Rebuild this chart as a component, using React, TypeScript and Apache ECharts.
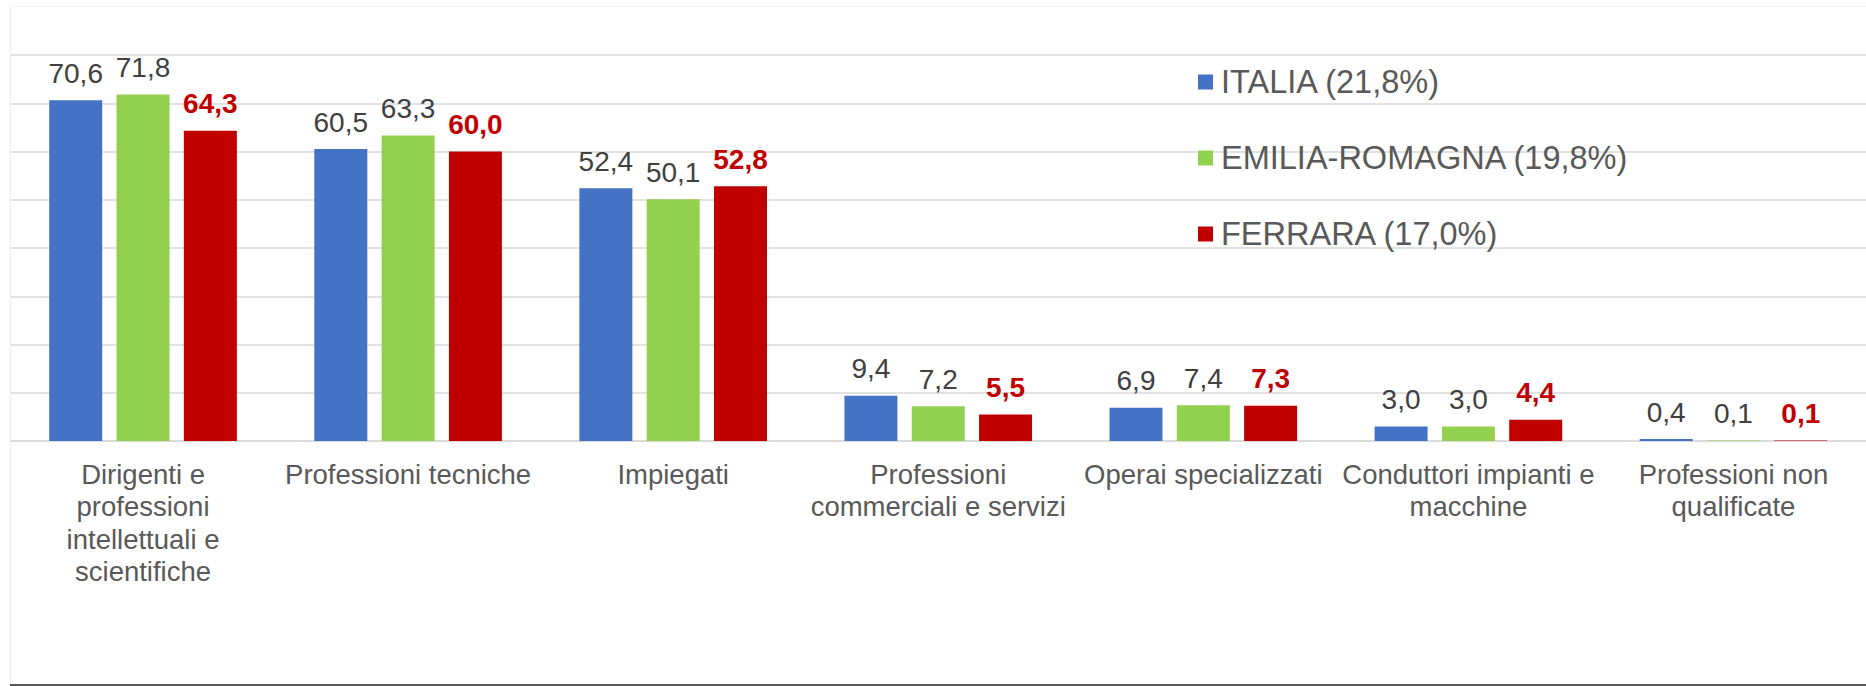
import React, { useEffect, useRef } from "react";
import * as echarts from "echarts";

const categories = [
  "Dirigenti e\nprofessioni\nintellettuali e\nscientifiche",
  "Professioni tecniche",
  "Impiegati",
  "Professioni\ncommerciali e servizi",
  "Operai specializzati",
  "Conduttori impianti e\nmacchine",
  "Professioni non\nqualificate",
];

const seriesNames = ["ITALIA (21,8%)", "EMILIA-ROMAGNA (19,8%)", "FERRARA (17,0%)"];
const italia = [70.6, 60.5, 52.4, 9.4, 6.9, 3.0, 0.4];
const emilia = [71.8, 63.3, 50.1, 7.2, 7.4, 3.0, 0.1];
const ferrara = [64.3, 60.0, 52.8, 5.5, 7.3, 4.4, 0.1];

const colors = ["#4472C4", "#92D050", "#C00000"];
const FONT = "'Liberation Sans', Arial, sans-serif";

const fmt = (p: any) => Number(p.value).toFixed(1).replace(".", ",");

export default function App() {
  const ref = useRef<HTMLDivElement>(null);
  useEffect(() => {
    if (!ref.current) return;
    const chart = echarts.init(ref.current, undefined, { renderer: "svg" });
    const mkSeries = (name: string, data: number[], i: number) => ({
      name,
      type: "bar",
      data,
      barWidth: 53,
      barGap: "27%",
      itemStyle: { color: colors[i] },
      label: {
        show: true,
        position: "top",
        distance: 11,
        formatter: fmt,
        fontFamily: FONT,
        fontSize: 28,
        lineHeight: 32,
        color: i === 2 ? "#C00000" : "#404040",
        fontWeight: i === 2 ? "bold" : "normal",
      },
    });
    chart.setOption({
      animation: false,
      backgroundColor: "#ffffff",
      textStyle: { fontFamily: FONT },
      grid: { left: 10.5, top: 55, width: 1863, height: 386, containLabel: false },
      legend: {
        orient: "vertical",
        left: 1198,
        top: 64,
        padding: 0,
        itemWidth: 15,
        itemHeight: 15,
        itemGap: 40,
        icon: "rect",
        selectedMode: false,
        textStyle: {
          fontFamily: FONT,
          fontSize: 32.5,
          lineHeight: 36,
          color: "#595959",
          padding: [0, 0, 0, 3],
        },
        data: seriesNames,
      },
      xAxis: {
        type: "category",
        data: categories,
        axisLine: { show: true, lineStyle: { color: "#D9D9D9", width: 1.5 } },
        axisTick: { show: false },
        axisLabel: {
          interval: 0,
          margin: 17,
          fontFamily: FONT,
          fontSize: 27.5,
          lineHeight: 32.4,
          color: "#595959",
          align: "center",
        },
      },
      yAxis: {
        type: "value",
        min: 0,
        max: 80,
        interval: 10,
        axisLabel: { show: false },
        axisLine: { show: false },
        axisTick: { show: false },
        splitLine: { lineStyle: { color: "#D9D9D9", width: 1.5 } },
      },
      graphic: [
        {
          type: "rect",
          shape: { x: 10.5, y: 6.5, width: 1900, height: 678 },
          style: { fill: "none", stroke: "#EFEFEF", lineWidth: 1 },
          silent: true,
          z: -1,
        },
        {
          type: "line",
          shape: { x1: 10, y1: 685, x2: 1866, y2: 685 },
          style: { stroke: "#595959", lineWidth: 2 },
          silent: true,
        },
      ],
      series: [
        mkSeries(seriesNames[0], italia, 0),
        mkSeries(seriesNames[1], emilia, 1),
        mkSeries(seriesNames[2], ferrara, 2),
      ],
    });
    return () => chart.dispose();
  }, []);
  return (
    <div
      ref={ref}
      style={{ position: "fixed", left: 0, top: 0, width: 1866, height: 686 }}
    />
  );
}
